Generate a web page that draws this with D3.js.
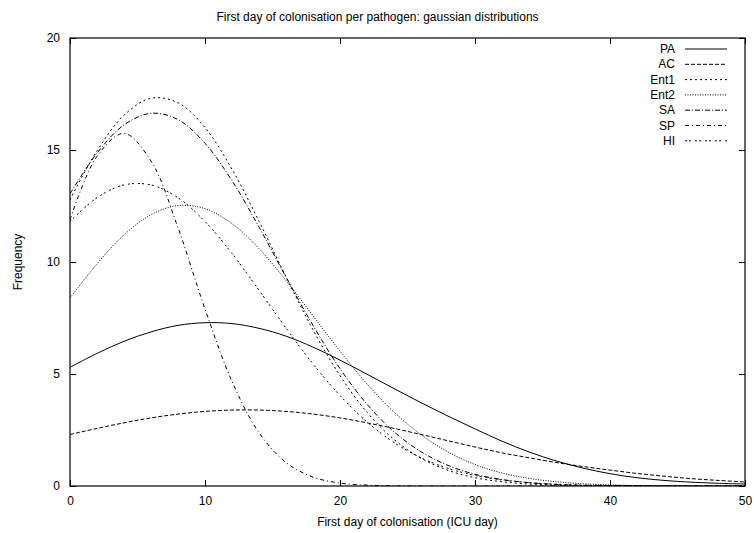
<!DOCTYPE html>
<html>
<head>
<meta charset="utf-8">
<script src="https://cdn.jsdelivr.net/npm/d3@7"></script>
<style>
  html, body { margin: 0; padding: 0; background: #fff; }
  svg { display: block; }
  text { font-family: "Liberation Sans", Arial, Helvetica, sans-serif; fill: #000; }
</style>
</head>
<body>
<svg id="chart" width="754" height="533"></svg>
<script>
// ---- data ----
const days = [0,2,4,6,8,10,12,14,16,18,20,22,24,26,28,30,32,34,36,38,40,42,44,46,48,50];
const seriesNames = ["PA","AC","Ent1","Ent2","SA","SP","HI"];
const PA   = [5.30,5.92,6.46,6.88,7.17,7.29,7.25,7.04,6.69,6.20,5.62,4.99,4.35,3.72,3.12,2.55,2.00,1.52,1.12,0.80,0.55,0.37,0.25,0.17,0.12,0.09];
const AC   = [2.30,2.57,2.82,3.04,3.21,3.33,3.39,3.39,3.33,3.21,3.04,2.82,2.57,2.30,2.02,1.74,1.48,1.26,1.05,0.87,0.71,0.56,0.44,0.33,0.25,0.18];
const Ent1 = [12.78,14.96,16.55,17.31,17.11,16.00,14.14,11.82,9.34,6.97,4.93,3.29,2.08,1.24,0.70,0.37,0.19,0.09,0.04,0.02,0.01,0,0,0,0,0];
const Ent2 = [8.39,9.92,11.21,12.11,12.52,12.38,11.71,10.60,9.17,7.60,6.02,4.56,3.30,2.29,1.52,0.96,0.58,0.34,0.19,0.10,0.05,0.02,0.01,0,0,0];
const SA   = [13.04,14.86,16.12,16.64,16.36,15.30,13.63,11.56,9.33,7.17,5.24,3.65,2.42,1.53,0.92,0.52,0.29,0.15,0.07,0.03,0.02,0.01,0,0,0,0];
const SP   = [11.88,14.72,15.74,14.51,11.53,7.90,4.67,2.38,1.05,0.40,0.13,0.04,0.01,0,0,0,0,0,0,0,0,0,0,0,0,0];
const HI   = [11.81,12.87,13.44,13.44,12.87,11.81,10.38,8.74,7.05,5.45,4.04,2.86,1.94,1.26,0.79,0.47,0.27,0.15,0.08,0.04,0.02,0.01,0,0,0,0];
const seriesValues = [PA, AC, Ent1, Ent2, SA, SP, HI];
const xTicks = [0,10,20,30,40,50];
const yTicks = [0,5,10,15,20];
const titleText = "First day of colonisation per pathogen: gaussian distributions";
const xTitle = "First day of colonisation (ICU day)";
const yTitle = "Frequency";

// ---- styles ----
const dashes = [null, "4,2", "2,3", "1,1.5", "5,2,1,2", "4,3,1,3", "2,2,2,4"];

const svg = d3.select("#chart");
const L = 70, R = 745, T = 38, B = 486;
const x = d3.scaleLinear().domain([0, 50]).range([L, R]);
const y = d3.scaleLinear().domain([0, 20]).range([B, T]);

svg.append("defs").append("clipPath").attr("id", "clip")
  .append("rect").attr("x", L).attr("y", T).attr("width", R - L).attr("height", B - T);

// title
svg.append("text").attr("x", (L + R) / 2 - 30).attr("y", 21)
  .attr("text-anchor", "middle").attr("font-size", 12).text(titleText);

// axes with inward ticks (gnuplot style, mirrored)
const tickLen = 6;
const gAx = svg.append("g");
const xAxisB = d3.axisBottom(x).tickValues(xTicks).tickSizeInner(-tickLen).tickSizeOuter(0).tickPadding(10);
const xAxisT = d3.axisTop(x).tickValues(xTicks).tickSizeInner(-tickLen).tickSizeOuter(0).tickFormat("");
const yAxisL = d3.axisLeft(y).tickValues(yTicks).tickSizeInner(-tickLen).tickSizeOuter(0).tickPadding(10);
const yAxisR = d3.axisRight(y).tickValues(yTicks).tickSizeInner(-tickLen).tickSizeOuter(0).tickFormat("");
[[xAxisB, `translate(0,${B})`], [xAxisT, `translate(0,${T})`], [yAxisL, `translate(${L},0)`], [yAxisR, `translate(${R},0)`]]
  .forEach(([ax, tr]) => {
    const g = gAx.append("g").attr("transform", tr).call(ax);
    g.select(".domain").remove();
    g.selectAll("line").attr("stroke", "#000").attr("stroke-width", 1);
    g.selectAll("text").attr("font-size", 12).attr("font-family", "Liberation Sans, Arial, sans-serif").attr("fill", "#000");
  });

// border
svg.append("rect").attr("x", L).attr("y", T).attr("width", R - L).attr("height", B - T)
  .attr("fill", "none").attr("stroke", "#000").attr("stroke-width", 1.2);

// axis titles
svg.append("text").attr("x", (L + R) / 2).attr("y", 526)
  .attr("text-anchor", "middle").attr("font-size", 12).text(xTitle);
svg.append("text").attr("transform", `translate(22,${(T + B) / 2}) rotate(-90)`)
  .attr("text-anchor", "middle").attr("font-size", 12).text(yTitle);

// curves
const line = d3.line().x((d, i) => x(days[i])).y(d => y(d)).curve(d3.curveCatmullRom);
const gLines = svg.append("g").attr("clip-path", "url(#clip)");
seriesValues.forEach((vals, k) => {
  gLines.append("path").datum(vals).attr("d", line)
    .attr("fill", "none").attr("stroke", "#000").attr("stroke-width", 1)
    .attr("stroke-dasharray", dashes[k]);
});

// legend
const gLeg = svg.append("g");
seriesNames.forEach((name, k) => {
  const yy = 49 + k * 15.3;
  gLeg.append("text").attr("x", 675).attr("y", yy + 4).attr("text-anchor", "end")
    .attr("font-size", 12).text(name);
  gLeg.append("line").attr("x1", 685).attr("x2", 727).attr("y1", yy).attr("y2", yy)
    .attr("stroke", "#000").attr("stroke-width", 1).attr("stroke-dasharray", dashes[k]);
});
</script>
</body>
</html>
